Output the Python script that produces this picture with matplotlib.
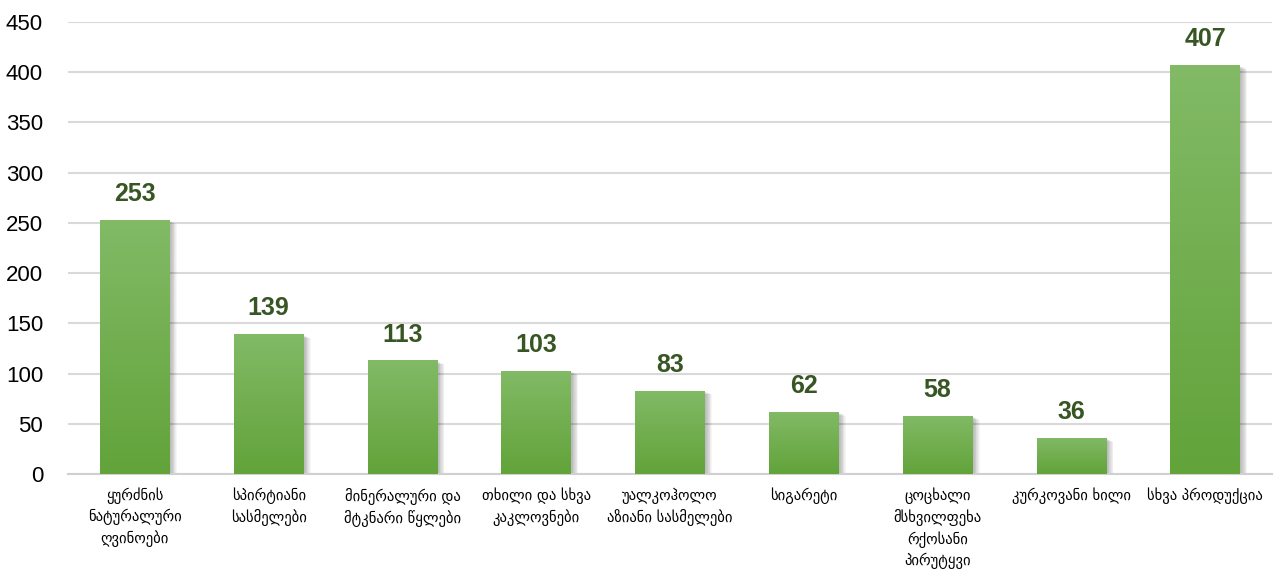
import numpy as np
import matplotlib.pyplot as plt
from matplotlib.colors import LinearSegmentedColormap
from matplotlib.patches import Rectangle

categories = [
    "ყურძნის\nნატურალური\nღვინოები",
    "სპირტიანი\nსასმელები",
    "მინერალური და\nმტკნარი წყლები",
    "თხილი და სხვა\nკაკლოვნები",
    "უალკოჰოლო\nაზიანი სასმელები",
    "სიგარეტი",
    "ცოცხალი\nმსხვილფეხა\nრქოსანი\nპირუტყვი",
    "კურკოვანი ხილი",
    "სხვა პროდუქცია",
]
values = [253, 139, 113, 103, 83, 62, 58, 36, 407]

fig = plt.figure(figsize=(12.79, 5.70), dpi=100)
ax = fig.add_axes([68 / 1279, 1 - 474 / 570, 1204 / 1279, 452 / 570])

x = np.arange(len(values))
width = 0.52

# soft drop shadow to the right of each bar
for xi, v in zip(x, values):
    for k in range(8):
        off = 0.012 + k * 0.006
        ax.add_patch(Rectangle((xi - width / 2 + off, 0), width, v - 1 - k * 0.4,
                               facecolor="#000000", alpha=0.035, lw=0, zorder=2))

bars = ax.bar(x, values, width=width, color="none", zorder=3)

# vertical gradient fill, lighter at top
cmap = LinearSegmentedColormap.from_list("grn", ["#62a33a", "#82ba66"])
grad = np.linspace(0, 1, 256).reshape(-1, 1)
for b in bars:
    x0, y0 = b.get_x(), b.get_y()
    w, h = b.get_width(), b.get_height()
    im = ax.imshow(grad, cmap=cmap, origin="lower", aspect="auto",
                   extent=[x0, x0 + w, y0, y0 + h], zorder=4)
    im.set_clip_path(b)
ax.set_aspect("auto")
ax.set_xlim(-0.5, len(values) - 0.5)
ax.set_ylim(0, 450)

for b, v in zip(bars, values):
    ax.annotate(str(v), (b.get_x() + b.get_width() / 2, v), xytext=(0, 10),
                textcoords="offset points", ha="center", va="bottom",
                fontsize=18, fontweight="bold", color="#375623",
                family=["Liberation Sans", "DejaVu Sans"])

ax.set_yticks(range(0, 451, 50))
ax.yaxis.grid(True, color="#d9d9d9", lw=1.5, zorder=0)
ax.set_axisbelow(True)
for s in ["top", "right", "left"]:
    ax.spines[s].set_visible(False)
ax.spines["bottom"].set_color("#d0d0d0")
ax.spines["bottom"].set_linewidth(1.5)
ax.tick_params(axis="both", length=0)
ax.tick_params(axis="y", pad=18)
ax.tick_params(axis="x", pad=10)

for t in ax.get_yticklabels():
    t.set_family(["Liberation Sans", "DejaVu Sans"])
    t.set_fontsize(16)
    t.set_color("#000000")

ax.set_xticks(x)
ax.set_xticklabels(categories, fontsize=10.5, family="DejaVu Sans",
                   linespacing=1.38, va="top")

fig.savefig("out.png", dpi=100)
